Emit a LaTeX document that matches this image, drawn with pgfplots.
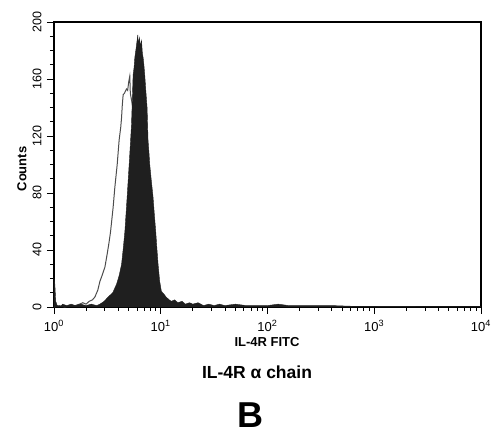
\documentclass[border=0pt]{standalone}
\usepackage{fontspec}
\setmainfont{Liberation Sans}
\usepackage{pgfplots}
\pgfplotsset{compat=1.18}
\begin{document}
\begin{tikzpicture}
\begin{axis}[
  at={(0,0)}, anchor=south west,
  width=427pt, height=285pt, scale only axis,
  xmin=0, xmax=4, ymin=0, ymax=200,
  axis line style={line width=1.4pt},
  every tick/.style={black, line width=0.9pt},
  tick align=outside, tick pos=left,
  major tick length=7pt, minor tick length=4pt,
  xtick={0,1,2,3,4},
  xticklabels={10\textsuperscript{0},10\textsuperscript{1},10\textsuperscript{2},10\textsuperscript{3},10\textsuperscript{4}},
  minor xtick={0.30103,0.47712,0.60206,0.69897,0.77815,0.84510,0.90309,0.95424,
    1.30103,1.47712,1.60206,1.69897,1.77815,1.84510,1.90309,1.95424,
    2.30103,2.47712,2.60206,2.69897,2.77815,2.84510,2.90309,2.95424,
    3.30103,3.47712,3.60206,3.69897,3.77815,3.84510,3.90309,3.95424},
  ytick={0,40,80,120,160,200},
  minor ytick={10,20,30,50,60,70,90,100,110,130,140,150,170,180,190},
  /pgf/number format/assume math mode=true,
  xticklabel style={font=\fontsize{13}{15}\selectfont, yshift=-3pt},
  yticklabel style={font=\fontsize{12.5}{14}\selectfont, rotate=90, anchor=south},
  yticklabel shift=2pt,
  clip=false,
]
\addplot[draw=black!70, line width=1pt] coordinates {
(0.00,0) (0.05,1) (0.10,0) (0.15,1) (0.20,1) (0.24,2) (0.27,3) (0.30,2) (0.33,4) (0.36,5)
(0.383,7) (0.40,10) (0.411,12) (0.43,18) (0.45,22) (0.477,28) (0.50,38) (0.515,45) (0.53,53)
(0.554,70) (0.57,84) (0.592,100) (0.61,117) (0.625,126) (0.633,133) (0.64,142) (0.648,149)
(0.66,150) (0.679,153) (0.69,152) (0.70,158) (0.71,162) (0.715,150) (0.75,135) (0.80,100)
(0.85,60) (0.90,25) (0.95,10) (1.00,4) (1.05,2) (1.10,1) (1.20,1)
};
\addplot[fill=black!88, draw=black!88, line width=0.4pt] coordinates {
(0.000,0) (0.000,20) (0.008,16) (0.016,4) (0.03,1) (0.06,0) (0.08,2) (0.12,1) (0.16,2) (0.20,1)
(0.25,2) (0.30,1) (0.35,2) (0.40,1) (0.43,2) (0.47,4) (0.507,7) (0.55,10) (0.586,16)
(0.61,22) (0.633,30) (0.65,42) (0.664,53) (0.685,77) (0.704,100) (0.716,115) (0.726,128)
(0.736,151) (0.741,163) (0.75,168) (0.757,175) (0.77,182) (0.78,188) (0.785,191) (0.79,184)
(0.80,189) (0.81,183) (0.82,187) (0.828,178) (0.835,175) (0.842,170) (0.85,163) (0.86,152)
(0.872,140) (0.881,117) (0.89,108) (0.897,100) (0.91,90) (0.928,77) (0.94,65) (0.953,53)
(0.965,40) (0.975,30) (0.99,18) (1.006,11) (1.03,9) (1.05,7) (1.065,6) (1.08,5) (1.10,4)
(1.13,5) (1.16,3) (1.20,4) (1.23,2) (1.27,3) (1.30,2) (1.35,3) (1.40,1) (1.45,2) (1.50,1)
(1.55,2) (1.60,1) (1.70,2) (1.80,1) (1.90,1) (2.00,1) (2.10,2) (2.20,1) (2.40,1) (2.60,1)
(2.80,0.5) (3.00,0.5) (3.50,0.3) (4.00,0.3) (4.00,0)
} \closedcycle;
\end{axis}
\node[rotate=90, font=\bfseries\fontsize{13}{15}\selectfont] at (-32pt,138pt) {Counts};
\node[font=\bfseries\fontsize{13}{15}\selectfont] at (213pt,-35pt) {IL-4R FITC};
\node[font=\bfseries\fontsize{17.5}{20}\selectfont] at (203pt,-65pt) {IL-4R α chain};
\node[font=\bfseries\fontsize{36}{38}\selectfont, inner sep=0pt] at (196pt,-108pt) {B};
\path (-54pt,-128pt) rectangle (442pt,307pt);
\end{tikzpicture}
\end{document}
